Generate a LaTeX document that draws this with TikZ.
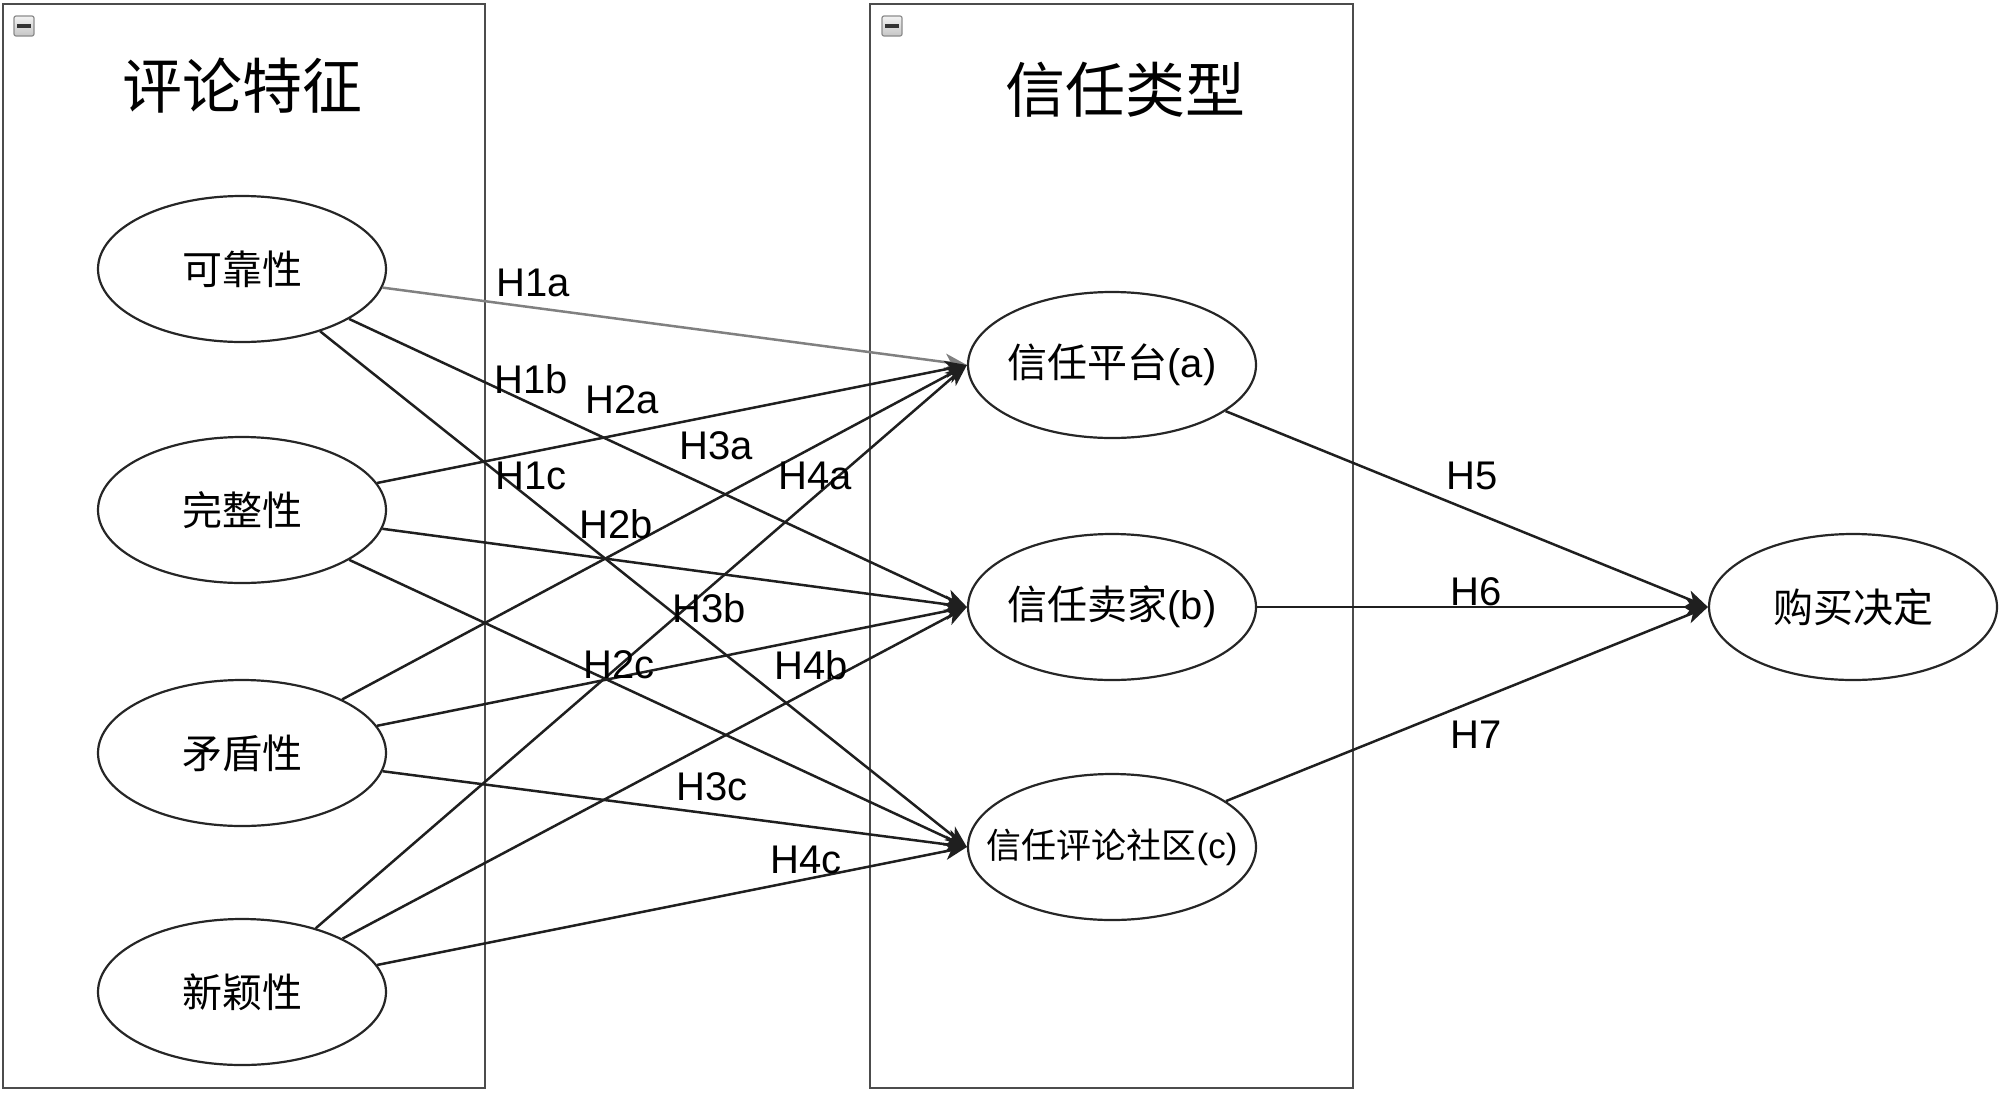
\documentclass[tikz,border=0pt]{standalone}
\usepackage{fontspec}
\setmainfont{Liberation Sans}
\newfontfamily\cjk{Noto Sans CJK SC}
\usetikzlibrary{shapes.geometric,arrows.meta}
\begin{document}
\begin{tikzpicture}[x=0.5pt,y=-0.5pt,
  ell/.style={ellipse, draw=black!85, line width=1.1pt, minimum width=144pt, minimum height=73pt, inner xsep=-20pt, inner ysep=0pt, font=\cjk\fontsize{20pt}{24pt}\selectfont},
  boxframe/.style={draw=black!70, line width=1.3pt},
  hyp/.style={font=\fontsize{20pt}{24pt}\selectfont, inner sep=0pt},
  conn/.style={draw=black!88, line width=1.25pt, -{Stealth[length=11pt,width=8.5pt,inset=3pt]}},
  lightconn/.style={conn, draw=black!50},
  titletext/.style={font=\cjk\fontsize{30pt}{36pt}\selectfont, inner sep=0pt},
  icon/.style={draw=black!45, line width=0.6pt, rounded corners=1pt, top color=gray!10, bottom color=gray!45, minimum size=10pt, inner sep=0pt}
]
\useasboundingbox (0,0) rectangle (2000,1092);
% frames
\draw[boxframe] (3,4) rectangle (485,1088);
\draw[boxframe] (870,4) rectangle (1353,1088);
% collapse icons
\node[icon] (m1) at (24,26) {};
\draw[line width=1.6pt, black!80] ([xshift=-3.5pt]m1.center) -- ([xshift=3.5pt]m1.center);
\node[icon] (m2) at (892,26) {};
\draw[line width=1.6pt, black!80] ([xshift=-3.5pt]m2.center) -- ([xshift=3.5pt]m2.center);
% titles
\node[titletext] (t1) at (242,86) {评论特征};
\node[titletext] (t2) at (1125,90) {信任类型};
% left ellipses
\node[ell] (r1) at (242,269) {可靠性};
\node[ell] (r2) at (242,510) {完整性};
\node[ell] (r3) at (242,753) {矛盾性};
\node[ell] (r4) at (242,992) {新颖性};
% right ellipses
\node[ell] (ta) at (1112,365) {信任平台\normalfont(a)};
\node[ell] (tb) at (1112,607) {信任卖家\normalfont(b)};
\node[ell, font=\cjk\fontsize{17.5pt}{21pt}\selectfont] (tc) at (1112,847) {信任评论社区\normalfont(c)};
\node[ell] (pd) at (1853,607) {购买决定};
% connectors
\draw[lightconn] (r1) -- (ta.west);
\draw[conn] (r1) -- (tb.west);
\draw[conn] (r1) -- (tc.west);
\draw[conn] (r2) -- (ta.west);
\draw[conn] (r2) -- (tb.west);
\draw[conn] (r2) -- (tc.west);
\draw[conn] (r3) -- (ta.west);
\draw[conn] (r3) -- (tb.west);
\draw[conn] (r3) -- (tc.west);
\draw[conn] (r4) -- (ta.west);
\draw[conn] (r4) -- (tb.west);
\draw[conn] (r4) -- (tc.west);
\draw[conn] (ta) -- (pd.west);
\draw[conn] (tb) -- (pd.west);
\draw[conn] (tc) -- (pd.west);
% hypothesis labels
\node[hyp] (h1a) at (533,283) {H1a};
\node[hyp] (h1b) at (531,379) {H1b};
\node[hyp] (h2a) at (622,400) {H2a};
\node[hyp] (h3a) at (716,446) {H3a};
\node[hyp] (h1c) at (531,476) {H1c};
\node[hyp] (h4a) at (815,476) {H4a};
\node[hyp] (h2b) at (616,524) {H2b};
\node[hyp] (h3b) at (709,608) {H3b};
\node[hyp] (h2c) at (619,665) {H2c};
\node[hyp] (h4b) at (811,665) {H4b};
\node[hyp] (h3c) at (712,787) {H3c};
\node[hyp] (h4c) at (806,860) {H4c};
\node[hyp] (h5) at (1472,476) {H5};
\node[hyp] (h6) at (1476,592) {H6};
\node[hyp] (h7) at (1476,735) {H7};
\end{tikzpicture}
\end{document}
